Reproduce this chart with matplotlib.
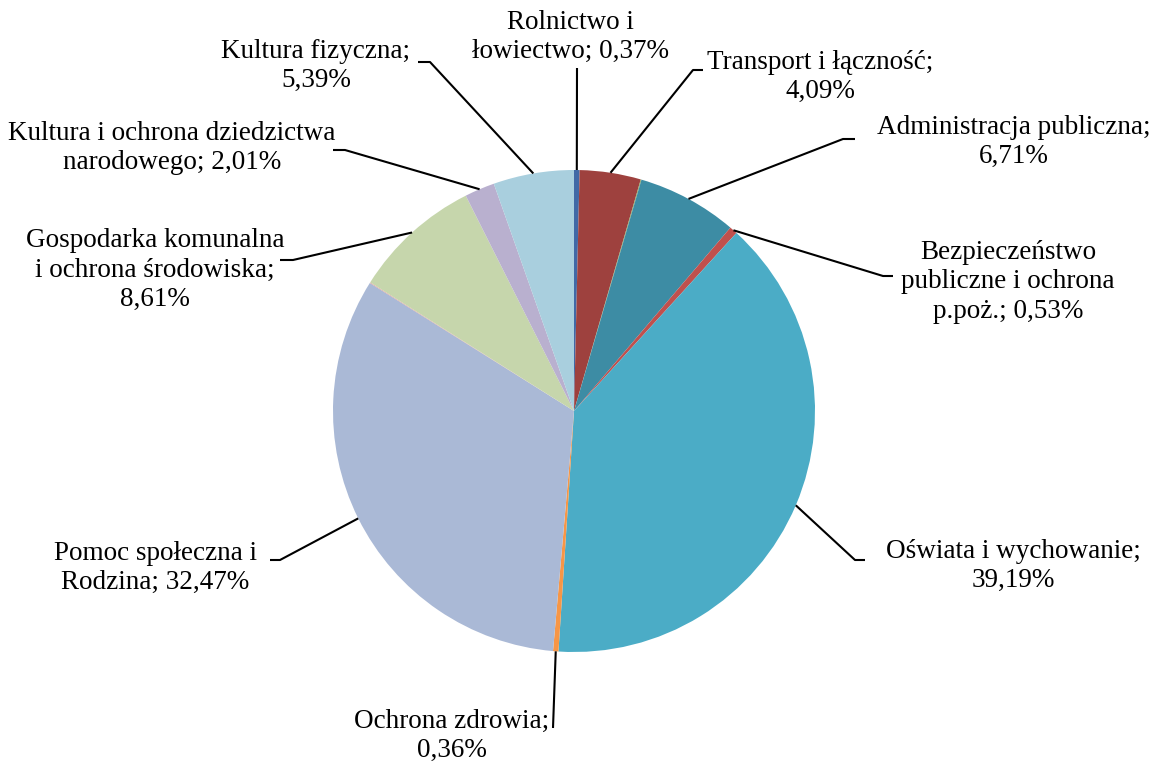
import numpy as np
import matplotlib
matplotlib.use('Agg')
import matplotlib.pyplot as plt

matplotlib.rcParams['font.family'] = ['Liberation Serif', 'DejaVu Serif']

# udzialy wydatkow (%), kolejnosc zgodnie z ruchem wskazowek od godz. 12
labels = ['Rolnictwo i\nłowiectwo; 0,37%',
          'Transport i łączność;\n4,09%',
          '',
          'Administracja publiczna;\n6,71%',
          'Bezpieczeństwo\npubliczne i ochrona\np.poż.; 0,53%',
          'Oświata i wychowanie;\n39,19%',
          'Ochrona zdrowia;\n0,36%',
          'Pomoc społeczna i\nRodzina; 32,47%',
          '',
          'Gospodarka komunalna\ni ochrona środowiska;\n8,61%',
          'Kultura i ochrona dziedzictwa\nnarodowego; 2,01%',
          'Kultura fizyczna;\n5,39%']
values = [0.37, 4.09, 0.05, 6.71, 0.53, 39.19, 0.36, 32.47, 0.05, 8.61, 2.01, 5.39]
colors = ['#4169A6', '#9E413E', '#8FA85A', '#3D8CA4', '#C0504D', '#4BACC6',
          '#F79646', '#AAB9D6', '#E0A8A0', '#C6D6AC', '#B9B0CF', '#A9CFDE']

# polozenie etykiet (piksele): srodek tekstu, punkt zalamania linii, koniec linii
text_pos = [(570, 37), (820, 77), None, (1014, 142), (1008, 282), (1013, 566),
            (452, 736), (155, 568), None, (155, 270), (172, 148), (316, 66)]
elbow = [(577, 68), (693, 70), None, (843, 139), (883, 276), (855, 560),
         (553, 728), (280, 560), None, (293, 260), (345, 150), (430, 62)]
tail = [(577, 68), (703, 70), None, (855, 139), (893, 276), (865, 560),
        (553, 728), (270, 560), None, (280, 260), (333, 150), (418, 62)]

W, H = 1159, 762
fig = plt.figure(figsize=(W / 100, H / 100), dpi=100)
ax = fig.add_axes([0, 0, 1, 1])
ax.set_xlim(0, W)
ax.set_ylim(0, H)
ax.set_aspect('equal')
ax.axis('off')

cx, cy, r = 574, H - 411, 241
wedges, _ = ax.pie(values, colors=colors, startangle=90, counterclock=False,
                   center=(cx, cy), radius=r, normalize=True,
                   wedgeprops=dict(linewidth=0))
ax.set_xlim(0, W)
ax.set_ylim(0, H)

for w, lab, tp, el, tl in zip(wedges, labels, text_pos, elbow, tail):
    if not lab:
        continue
    ang = np.deg2rad((w.theta1 + w.theta2) / 2)
    x0, y0 = cx + r * np.cos(ang), cy + r * np.sin(ang)
    ax.plot([x0, el[0], tl[0]], [y0, H - el[1], H - tl[1]], color='black', lw=1.5,
            solid_capstyle='butt')
    ax.text(tp[0], H - tp[1], lab, ha='center', va='center', fontsize=19.5,
            linespacing=1.25, color='black', multialignment='center')

plt.savefig('out.png', dpi=100)
plt.close()
